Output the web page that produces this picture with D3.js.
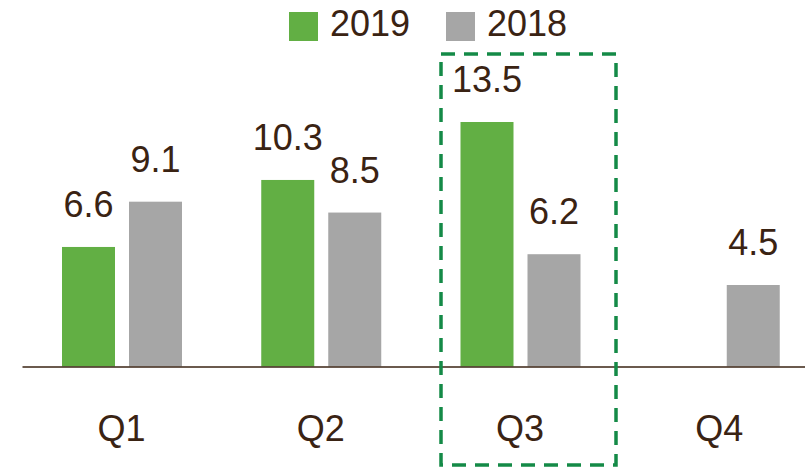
<!DOCTYPE html>
<html><head><meta charset="utf-8">
<script src="https://cdn.jsdelivr.net/npm/d3@7"></script>
<style>body{margin:0;background:#fff}svg{display:block}</style>
</head><body><svg id="c" width="805" height="469"></svg>
<script>
const categories = ["Q1","Q2","Q3","Q4"];
const seriesNames = ["2019","2018"];
const values2019 = [6.6, 10.3, 13.5, null];
const values2018 = [9.1, 8.5, 6.2, 4.5];
const colors = ["#62af44","#a6a6a6"];
const highlight = "Q3";

const svg = d3.select("#c");
const textColor = "#3a2313";
const font = "'Liberation Sans', Arial, sans-serif";

const x = d3.scaleBand().domain(categories).range([22, 819]).padding(0);
const xs = d3.scaleBand().domain(seriesNames).range([40, 160]).paddingInner(0.209).paddingOuter(0);
const y = d3.scaleLinear().domain([0, 13.5]).range([366.5, 122]);

const data = [];
categories.forEach((c,i)=>{
  [values2019, values2018].forEach((arr,j)=>{
    if(arr[i]!=null) data.push({cat:c, series:seriesNames[j], v:arr[i], color:colors[j]});
  });
});

svg.selectAll("rect.bar").data(data).enter().append("rect")
  .attr("class","bar")
  .attr("x", d=>x(d.cat)+xs(d.series))
  .attr("width", xs.bandwidth())
  .attr("y", d=>y(d.v))
  .attr("height", d=>y(0)-y(d.v))
  .attr("fill", d=>d.color);

svg.selectAll("text.val").data(data).enter().append("text")
  .attr("class","val")
  .attr("x", d=>x(d.cat)+xs(d.series)+xs.bandwidth()/2)
  .attr("y", d=>y(d.v)-30)
  .attr("text-anchor","middle")
  .attr("font-family",font).attr("font-size",36)
  .attr("fill",textColor)
  .text(d=>d3.format(".1f")(d.v));

// baseline axis
const axis = d3.axisBottom(x).tickSize(0).tickPadding(49);
const ax = svg.append("g").attr("transform",`translate(0,${y(0)})`).call(axis);
ax.select(".domain").attr("stroke","#3a2313").attr("stroke-width",1.5);
ax.selectAll("text").attr("font-family",font).attr("font-size",36).attr("fill",textColor);

// highlight dashed box
svg.append("rect")
  .attr("x", 441).attr("y", 54)
  .attr("width", 616-441).attr("height", 465-54)
  .attr("fill","none").attr("stroke","#148a47").attr("stroke-width",3.5)
  .attr("stroke-dasharray","14,9");

// legend
const lg = svg.append("g");
const lx = [289, 446];
seriesNames.forEach((s,i)=>{
  lg.append("rect").attr("x",lx[i]).attr("y",12).attr("width",29).attr("height",29).attr("fill",colors[i]);
  lg.append("text").attr("x",lx[i]+41).attr("y",36)
    .attr("font-family",font).attr("font-size",36).attr("fill",textColor).text(s);
});
</script></body></html>
